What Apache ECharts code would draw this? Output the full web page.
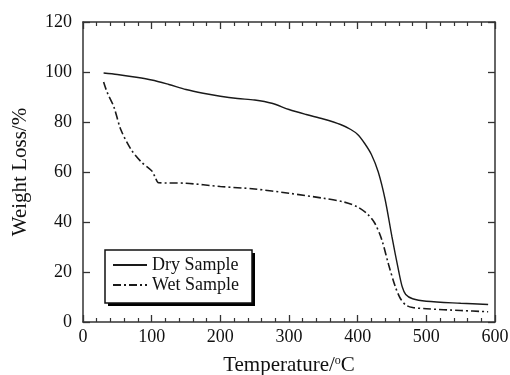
<!DOCTYPE html>
<html><head><meta charset="utf-8">
<script src="https://cdn.jsdelivr.net/npm/echarts@6/dist/echarts.min.js"></script>
<style>html,body{margin:0;padding:0;background:#fff}#c{width:510px;height:375px}</style>
</head><body><div id="c"></div>
<script>
var dryT = [30,50,75,100,125,150,175,200,225,250,275,300,325,350,375,390,400,410,420,430,440,450,460,465,470,480,500,550,590];
var dryW = [99.6,99,98,96.8,95,93,91.5,90.3,89.4,88.8,87.5,85,83,81.2,79,77,75,71.5,67,60,49,34,20,14,11,9.3,8.3,7.5,7.0];
var wetT = [30,35,45,55,70,85,100,105,110,150,200,250,300,350,380,400,415,425,435,445,455,462,470,480,500,550,590];
var wetW = [96,92,86,77,69,64,60.5,58,55.7,55.5,54.2,53.2,51.5,49.5,48,46,43,39.5,33,23,14,9.5,6.8,5.8,5.3,4.6,4.1];
var seriesNames = ['Dry Sample','Wet Sample'];
var xTitle = 'Temperature/{sup|o}C';
var yTitle = 'Weight Loss/%';

function pairs(a,b){return a.map(function(v,i){return [v,b[i]];});}
var font = 'Liberation Serif';
var axisCol = '#333';
var chart = echarts.init(document.getElementById('c'));
function tick(){return {show:true, inside:true, length:7, lineStyle:{color:axisCol, width:1.3}};}
function minor(){return {show:true, splitNumber:5, length:4, lineStyle:{color:axisCol, width:1.2}};}
function line(){return {show:true, onZero:false, lineStyle:{color:axisCol, width:1.5}};}
chart.setOption({
  animation:false,
  backgroundColor:'#fff',
  grid:{left:83,right:15,top:22,bottom:53, containLabel:false, outerBoundsMode:'none'},
  graphic:[
    {type:'rect', z:50, shape:{x:108, y:253, width:147, height:53}, style:{fill:'#000'}},
    {type:'rect', z:51, shape:{x:105, y:250, width:147, height:53}, style:{fill:'#fff', stroke:'#111', lineWidth:1.5}}
  ],
  legend:{
    orient:'vertical', left:112, top:256, z:60,
    data:seriesNames,
    padding:0, itemGap:2, itemWidth:34, itemHeight:16,
    itemStyle:{opacity:0},
    textStyle:{fontFamily:font, fontSize:18, color:'#111'}
  },
  xAxis:[{
    type:'value', min:0, max:600, interval:100, position:'bottom',
    name:xTitle, nameLocation:'middle', nameGap:33,
    nameTextStyle:{fontFamily:font, fontSize:21, color:'#111',
      rich:{sup:{fontFamily:font, fontSize:12, color:'#111', verticalAlign:'top', padding:[0,0,9,0]}}},
    axisLine:line(), axisTick:tick(), minorTick:minor(),
    axisLabel:{fontFamily:font, fontSize:18, color:'#111', margin:6},
    splitLine:{show:false}
  },{
    type:'value', min:0, max:600, interval:100, position:'top',
    axisLine:line(), axisTick:tick(), minorTick:minor(),
    axisLabel:{show:false}, splitLine:{show:false}
  }],
  yAxis:[{
    type:'value', min:0, max:120, interval:20, position:'left',
    name:yTitle, nameLocation:'middle', nameGap:52,
    nameTextStyle:{fontFamily:font, fontSize:21, color:'#111'},
    axisLine:line(), axisTick:tick(),
    axisLabel:{fontFamily:font, fontSize:18, color:'#111', margin:11},
    splitLine:{show:false}
  },{
    type:'value', min:0, max:120, interval:20, position:'right',
    axisLine:line(), axisTick:tick(),
    axisLabel:{show:false}, splitLine:{show:false}
  }],
  series:[{
    name:seriesNames[0], type:'line', symbol:'none', smooth:0.3,
    data:pairs(dryT,dryW),
    lineStyle:{color:'#1a1a1a', width:1.4, type:'solid'},
    itemStyle:{color:'#1a1a1a'}
  },{
    name:seriesNames[1], type:'line', symbol:'none', smooth:0.3,
    data:pairs(wetT,wetW),
    lineStyle:{color:'#1a1a1a', width:1.6, type:[8,3,2,3]},
    itemStyle:{color:'#1a1a1a'}
  }]
});
</script>
</body></html>
